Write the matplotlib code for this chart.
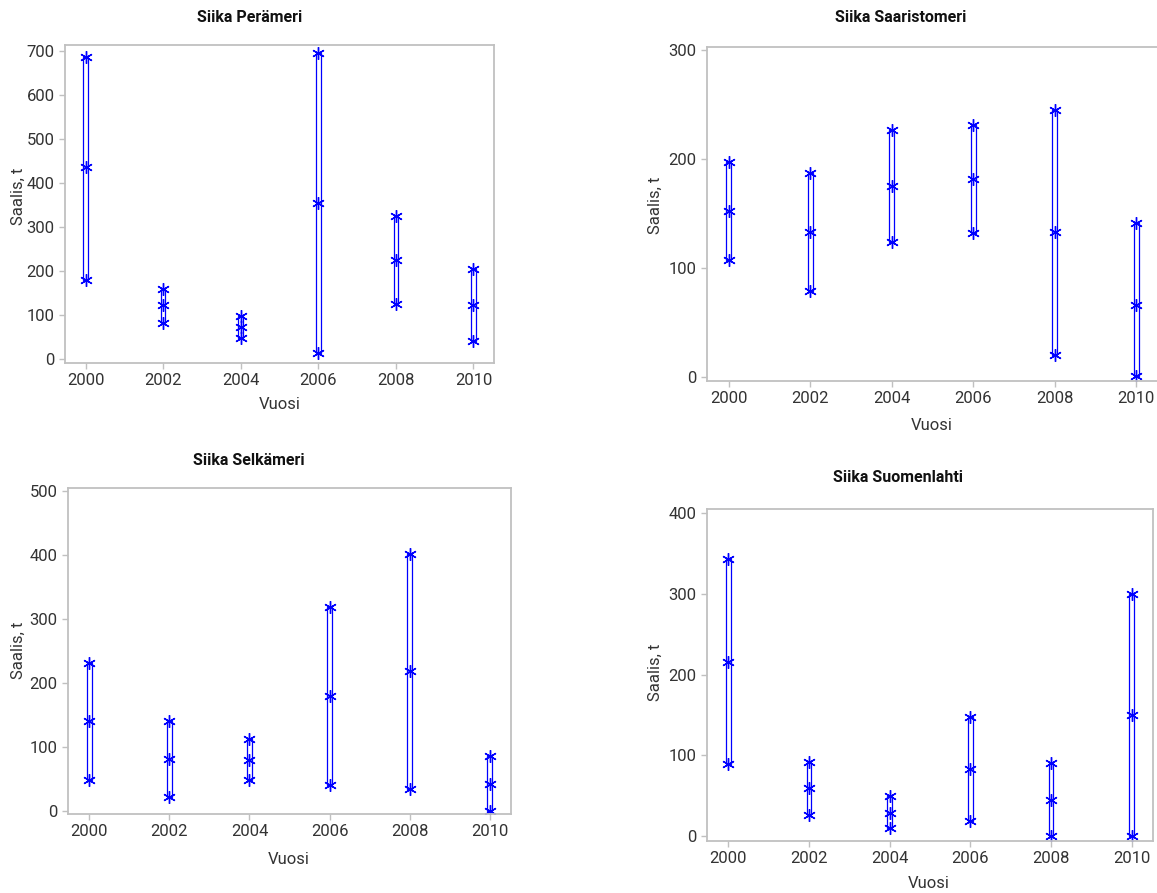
import matplotlib
matplotlib.use("Agg")
import matplotlib.pyplot as plt

plt.rcParams['font.family'] = ['Roboto', 'DejaVu Sans']

years = [2000, 2002, 2004, 2006, 2008, 2010]

peram_hi = [686, 160, 97, 695, 325, 205]
peram_mid = [435, 122, 72, 355, 225, 123]
peram_lo = [180, 82, 48, 13, 125, 42]

saar_hi = [197, 187, 227, 231, 245, 141]
saar_mid = [152, 133, 175, 182, 133, 66]
saar_lo = [107, 79, 124, 132, 20, 1]

selk_hi = [232, 140, 112, 318, 402, 86]
selk_mid = [140, 82, 80, 179, 219, 42]
selk_lo = [48, 22, 49, 40, 35, 0]

suom_hi = [343, 92, 49, 147, 91, 300]
suom_mid = [216, 59, 29, 83, 45, 150]
suom_lo = [89, 26, 10, 18, 0, 0]

titles = ["Siika Perämeri", "Siika Saaristomeri", "Siika Selkämeri", "Siika Suomenlahti"]

W, H = 1157, 893
fig = plt.figure(figsize=(W / 100, H / 100), dpi=100)

def px_axes(l, t, r, b):
    return fig.add_axes([l / W, 1 - b / H, (r - l) / W, (b - t) / H])

panels = [
    dict(box=(65, 45, 494, 363), hi=peram_hi, mid=peram_mid, lo=peram_lo,
         ylim=(-9, 713), yticks=range(0, 701, 100), title=titles[0], tpos=(250, 18),
         ylab=(18, 196), xlab=(280, 405)),
    dict(box=(707, 47, 1158, 381), hi=saar_hi, mid=saar_mid, lo=saar_lo,
         ylim=(-3.7, 302.8), yticks=range(0, 301, 100), title=titles[1], tpos=(901, 18),
         ylab=(655, 205), xlab=(932, 425)),
    dict(box=(68, 488, 511, 814), hi=selk_hi, mid=selk_mid, lo=selk_lo,
         ylim=(-4.7, 504.7), yticks=range(0, 501, 100), title=titles[2], tpos=(249, 460),
         ylab=(18, 650), xlab=(289, 860)),
    dict(box=(707, 509, 1153, 841), hi=suom_hi, mid=suom_mid, lo=suom_lo,
         ylim=(-6.2, 405), yticks=range(0, 401, 100), title=titles[3], tpos=(898, 478),
         ylab=(655, 672), xlab=(929, 884)),
]

blue = '#0000ff'
frame = '#c0c0c0'
txt = '#333333'

for p in panels:
    ax = px_axes(*p['box'])
    heights = [h - l for h, l in zip(p['hi'], p['lo'])]
    ax.bar(years, heights, bottom=p['lo'], width=0.12, fill=False,
           edgecolor=blue, linewidth=0.9)
    for vals in (p['hi'], p['mid'], p['lo']):
        ax.plot(years, vals, linestyle='none', marker=(6, 2, 0), markersize=9,
                markeredgecolor=blue, markeredgewidth=1.0, color=blue)
    ax.set_xlim(1999.47, 2010.53)
    ax.set_ylim(*p['ylim'])
    ax.set_xticks(years)
    ax.set_yticks(list(p['yticks']))
    for s in ax.spines.values():
        s.set_color(frame)
        s.set_linewidth(1.3)
    ax.tick_params(colors=frame, labelcolor=txt, labelsize=12, length=4, width=1)
    ax.set_xlabel("Vuosi", fontsize=12, color=txt, va='center')
    ax.set_ylabel("Saalis, t", fontsize=12, color=txt, va='center')
    ax.xaxis.set_label_coords(p['xlab'][0] / W, 1 - p['xlab'][1] / H, transform=fig.transFigure)
    ax.yaxis.set_label_coords(p['ylab'][0] / W, 1 - p['ylab'][1] / H, transform=fig.transFigure)
    fig.text(p['tpos'][0] / W, 1 - p['tpos'][1] / H, p['title'], ha='center', va='center',
             fontsize=11.5, fontweight='bold', color='#111111')

fig.savefig("out.png", dpi=100, facecolor='white')
